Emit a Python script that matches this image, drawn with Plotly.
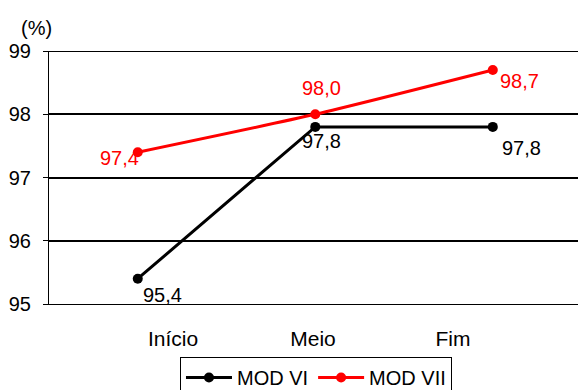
import plotly.graph_objects as go

stages = ["Início", "Meio", "Fim"]
mod_vi = [95.4, 97.8, 97.8]
mod_vii = [97.4, 98.0, 98.7]
y_ticks = [95, 96, 97, 98, 99]

FONT = "Arial, Liberation Sans, sans-serif"

fig = go.Figure()
fig.add_trace(go.Scatter(
    x=stages, y=mod_vi, name="MOD VI", mode="lines+markers",
    line=dict(color="black", width=3),
    marker=dict(color="black", size=10),
))
fig.add_trace(go.Scatter(
    x=stages, y=mod_vii, name="MOD VII", mode="lines+markers",
    line=dict(color="#ff0000", width=3, shape="spline", smoothing=0.6),
    marker=dict(color="#ff0000", size=10),
))
# invisible trace carrying the category labels on their own axis
fig.add_trace(go.Scatter(
    x=stages, y=[None] * len(stages), xaxis="x2", mode="markers",
    showlegend=False, hoverinfo="skip",
))

# value labels next to each point (pixel offsets from the point)
vi_offsets = [(25, -16), (6, -14), (29, -21)]
vii_offsets = [(-18, -6), (6, 26), (27, -11)]
for xs, ys, offs, col in [(stages, mod_vi, vi_offsets, "black"),
                          (stages, mod_vii, vii_offsets, "#ff0000")]:
    for cat, val, (dx, dy) in zip(xs, ys, offs):
        fig.add_annotation(
            x=cat, y=val, xref="x", yref="y",
            text=f"{val:.1f}".replace(".", ","),
            showarrow=False, xshift=dx, yshift=dy,
            font=dict(family=FONT, size=20, color=col),
        )

fig.add_annotation(
    x=-0.0227, y=1.09, xref="paper", yref="paper",
    xanchor="center", yanchor="middle",
    text="(%)", showarrow=False,
    font=dict(family=FONT, size=20, color="black"),
)

# top gridline at the upper range limit
fig.add_shape(
    type="line", xref="paper", yref="y", x0=0, x1=1, y0=y_ticks[-1], y1=y_ticks[-1],
    line=dict(color="black", width=2),
)

fig.update_layout(
    width=578, height=390,
    margin=dict(l=49, r=0, t=51, b=86, autoexpand=False),
    paper_bgcolor="white", plot_bgcolor="white",
    font=dict(family=FONT, size=20, color="black"),
    showlegend=True,
    legend=dict(
        orientation="h", x=0.2476, y=-0.2095, xanchor="left", yanchor="top",
        bordercolor="black", borderwidth=1, bgcolor="white",
        font=dict(family=FONT, size=20, color="black"),
        itemwidth=46, tracegroupgap=0,
    ),
    xaxis=dict(
        range=[-0.5, 2.48], showgrid=False, showline=True, linecolor="black",
        linewidth=1, ticks="", showticklabels=False,
    ),
    xaxis2=dict(
        overlaying="x", side="bottom", anchor="y",
        range=[-0.886, 2.893], showgrid=False, showline=False, ticks="",
        ticklabelstandoff=20, zeroline=False,
        tickfont=dict(family=FONT, size=21, color="black"),
    ),
    yaxis=dict(
        range=[95, 99], tickvals=y_ticks, showgrid=True, gridcolor="black",
        gridwidth=2, showline=True, linecolor="black", linewidth=1,
        ticks="outside", ticklen=5, tickcolor="black", zeroline=False,
        ticklabelstandoff=8,
        tickfont=dict(family=FONT, size=20, color="black"),
    ),
)

fig.write_html("out.html")
